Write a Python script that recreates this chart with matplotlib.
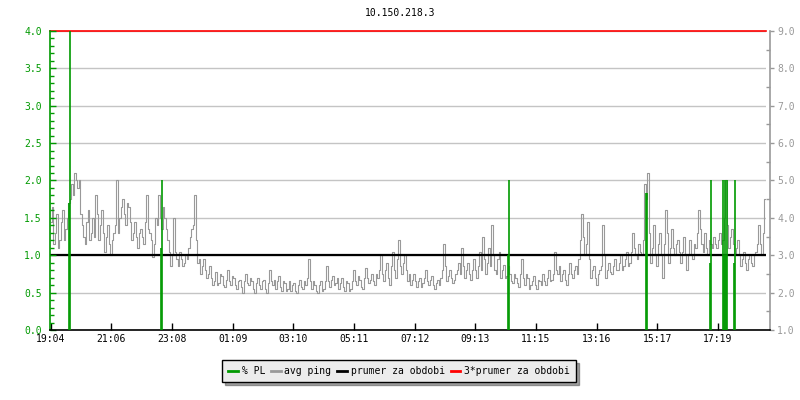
import matplotlib
matplotlib.use("Agg")
import matplotlib.pyplot as plt
import numpy as np
from matplotlib.lines import Line2D
from matplotlib.ticker import MultipleLocator, FormatStrFormatter

# ── data ────────────────────────────────────────────────────────────────────
title = "10.150.218.3"
tick_labels = ["19:04", "21:06", "23:08", "01:09", "03:10", "05:11",
               "07:12", "09:13", "11:15", "13:16", "15:17", "17:19"]
tick_step = 121.36      # minutes between labelled ticks
span = 1431             # minutes shown

# avg ping [ms], samples every 6 minutes from 19:05 ...
ping_start, ping_step = 0.6, 6.0
ping_a = [
    3.9, 3.3, 4.1, 3.4, 4.2, 3.7, 4.4, 4.9, 5.2, 4.8,
    4.1, 3.5, 3.9, 3.4, 4.0, 4.6, 3.4, 4.2, 3.1, 3.8,
    3.0, 3.6, 5.0, 4.0, 4.5, 3.8, 4.3, 3.4, 3.9, 3.2,
    3.7, 3.3, 4.6, 3.6, 2.95, 4.0, 4.6, 3.7, 4.0, 3.4,
    2.7, 4.0, 2.9, 3.1, 2.7, 3.0, 3.2, 3.7, 4.6, 2.8,
    2.5, 2.9, 2.4, 2.7, 2.2, 2.55, 2.25, 2.45, 2.15, 2.6,
    2.2, 2.4, 2.1, 2.35, 2.0, 2.5, 2.2, 2.3, 2.0, 2.4,
    2.1, 2.35, 2.0, 2.6, 2.2, 2.1, 2.45, 2.05, 2.25, 2.1,
    2.05, 2.25, 2.0, 2.35, 2.1, 2.2, 2.9, 2.1, 2.2, 2.0,
    2.3, 2.1, 2.7, 2.15, 2.45, 2.25, 2.1, 2.4, 2.05, 2.25,
    2.1, 2.6, 2.2, 2.35, 2.1, 2.65, 2.25, 2.5, 2.2, 2.4,
    3.0, 2.3, 2.8, 2.2, 3.1, 2.4, 3.4, 2.5, 3.0, 2.3,
    2.2, 2.5, 2.15, 2.4, 2.25, 2.6, 2.2, 2.45, 2.1, 2.35,
    2.4, 3.3, 2.3, 2.6, 2.25, 2.5, 2.8, 3.2, 2.4, 2.8,
    2.35, 2.9, 2.4, 3.1, 3.5, 2.5, 3.2, 3.8, 2.6, 2.9,
    2.4, 2.75, 2.45, 2.5, 2.25, 2.4, 2.15, 2.9, 2.2, 2.4,
    2.2, 2.45, 2.1, 2.3, 2.5, 2.2, 2.6, 2.35, 3.1, 2.5,
    2.3, 2.6, 2.2, 2.8, 2.4, 2.7, 2.9, 4.1, 3.0, 3.9,
    2.4, 2.7, 2.2, 2.6, 3.8, 2.4, 2.8, 2.5, 2.9, 2.6,
    3.0, 2.7, 3.1, 2.8, 3.6, 3.0, 3.3, 3.0, 4.9, 5.2,
    2.8, 3.8, 2.7, 3.6, 2.4, 4.2, 2.8, 3.7, 3.0, 3.4,
    2.8, 3.5, 2.6, 3.4, 2.9, 3.2, 4.2, 3.3, 3.6, 3.0,
    3.3, 3.5, 3.2, 3.6, 3.4, 5.0, 3.2, 3.7, 3.0, 3.4,
    2.7, 3.1, 2.6, 3.0, 2.7, 3.1, 3.8, 3.0, 4.5,
]
# ... and the samples halfway between them
ping_b = [
    4.3, 3.6, 3.2, 3.9, 3.4, 4.0, 4.5, 4.6, 5.0, 5.0,
    3.8, 3.3, 4.2, 3.6, 3.5, 4.1, 3.8, 3.6, 3.5, 3.3,
    3.4, 3.8, 3.6, 4.3, 4.1, 4.4, 3.9, 3.6, 3.5, 3.6,
    3.5, 3.9, 3.7, 3.4, 3.3, 3.8, 4.0, 4.3, 3.7, 3.1,
    3.0, 3.1, 2.7, 2.9, 2.8, 2.9, 3.5, 3.8, 3.4, 2.9,
    2.7, 2.6, 2.5, 2.4, 2.3, 2.2, 2.5, 2.2, 2.35, 2.3,
    2.45, 2.2, 2.3, 2.15, 2.3, 2.25, 2.4, 2.1, 2.25, 2.2,
    2.3, 2.1, 2.25, 2.3, 2.35, 2.3, 2.15, 2.3, 2.05, 2.3,
    2.2, 2.05, 2.2, 2.15, 2.3, 2.4, 2.3, 2.3, 2.05, 2.2,
    2.05, 2.3, 2.3, 2.35, 2.2, 2.4, 2.25, 2.15, 2.3, 2.05,
    2.3, 2.3, 2.45, 2.15, 2.4, 2.4, 2.35, 2.3, 2.5, 2.6,
    2.5, 2.6, 2.4, 2.7, 2.6, 2.9, 2.7, 2.8, 2.6, 2.5,
    2.35, 2.3, 2.3, 2.15, 2.4, 2.3, 2.35, 2.2, 2.25, 2.2,
    2.6, 2.7, 2.45, 2.4, 2.35, 2.6, 2.5, 2.7, 2.6, 2.5,
    2.6, 2.6, 2.7, 2.6, 2.9, 2.8, 2.7, 3.0, 2.5, 3.1,
    2.6, 2.4, 2.7, 2.3, 2.5, 2.25, 2.5, 2.4, 2.5, 2.1,
    2.3, 2.2, 2.35, 2.2, 2.3, 2.4, 2.3, 2.5, 2.6, 2.7,
    2.5, 2.35, 2.5, 2.5, 2.6, 2.5, 3.4, 3.5, 3.3, 2.9,
    2.6, 2.4, 2.5, 2.7, 3.0, 2.6, 2.55, 2.7, 2.6, 2.8,
    2.6, 2.9, 2.7, 3.1, 3.2, 2.9, 3.1, 3.4, 4.5, 3.6,
    3.2, 3.0, 3.3, 3.0, 3.3, 3.6, 3.2, 3.2, 3.3, 3.1,
    3.1, 3.0, 3.0, 3.0, 3.3, 3.6, 3.7, 3.1, 3.2, 3.4,
    3.2, 3.3, 3.4, 3.3, 4.0, 3.8, 3.5, 3.3, 3.2, 3.0,
    2.9, 2.8, 2.9, 2.8, 3.0, 3.3, 3.3, 3.6,
]

# packet loss [%] spikes: minute from start, value
pl_time = [36.6, 38.6, 220.6, 222.6, 914.6, 916.6, 1190.6, 1192.6,
           1318.6, 1320.6, 1344.6, 1346.6, 1348.6, 1350.6, 1352.6, 1366.6, 1368.6]
pl_val = [1.7, 4.0, 1.1, 2.0, 1.0, 2.0, 1.83, 1.83,
          0.9, 2.0, 2.0, 1.0, 2.0, 1.0, 2.0, 0.9, 2.0]

avg_mean = 3.0          # prumer za obdobi [ms]
avg_mean3 = 9.0         # 3*prumer

# ── colours ─────────────────────────────────────────────────────────────────
GREEN = "#009900"
GRAY = "#999999"
GRID = "#c4c4c4"

plt.rcParams["font.family"] = "DejaVu Sans Mono"
plt.rcParams["font.size"] = 7

fig = plt.figure(figsize=(8, 4), dpi=100)
fig.patch.set_facecolor("white")
ax = fig.add_axes([50 / 800, 70 / 400, 716 / 800, 299 / 400])
axr = ax.twinx()
ax.set_zorder(2)
axr.set_zorder(1)
ax.patch.set_visible(False)

# interleave the two sample sets into one series
ping = np.empty(len(ping_a) + len(ping_b))
ping[0::2] = ping_a
ping[1::2] = ping_b
t = ping_start + (ping_step / 2) * np.arange(len(ping))

# right axis: ping
axr.set_ylim(1, 9)
axr.yaxis.set_major_locator(MultipleLocator(1.0))
axr.yaxis.set_minor_locator(MultipleLocator(0.5))
axr.yaxis.set_major_formatter(FormatStrFormatter("%.1f"))
axr.grid(True, which="major", axis="y", color=GRID, lw=1.0, zorder=0)
axr.plot(t, ping, color=GRAY, lw=0.8, zorder=2, drawstyle="steps-mid")
axr.axhline(avg_mean, color="black", lw=1.6, zorder=3)
axr.axhline(avg_mean3, color="red", lw=1.2, zorder=3, clip_on=False)

# left axis: packet loss
ax.set_ylim(0, 4)
ax.set_xlim(-1.4, span)
ax.vlines(pl_time, 0, pl_val, color=GREEN, lw=1.2, zorder=4)
ax.yaxis.set_major_locator(MultipleLocator(0.5))
ax.yaxis.set_minor_locator(MultipleLocator(0.1))
ax.yaxis.set_major_formatter(FormatStrFormatter("%.1f"))
ax.set_xticks([i * tick_step for i in range(len(tick_labels))])
ax.set_xticklabels(tick_labels)

# spines / ticks
for s in ["top", "right"]:
    ax.spines[s].set_visible(False)
for s in ["top", "left", "bottom"]:
    axr.spines[s].set_visible(False)
ax.spines["left"].set_color(GREEN)
ax.spines["left"].set_linewidth(1.2)
ax.spines["bottom"].set_color("black")
ax.spines["bottom"].set_linewidth(1.2)
ax.spines["bottom"].set_bounds(-1.4, span + 8)
axr.spines["right"].set_color(GRAY)
axr.spines["right"].set_linewidth(1.2)
axr.spines["right"].set_position(("outward", 3))

ax.tick_params(axis="y", which="major", direction="in", length=4, width=1,
               color=GREEN, labelcolor=GREEN, pad=6)
ax.tick_params(axis="y", which="minor", direction="in", length=3, width=1,
               color=GREEN)
ax.tick_params(axis="x", which="major", direction="in", length=5, width=1,
               color="black", labelcolor="black", pad=3)
axr.tick_params(axis="y", which="major", direction="out", length=3, width=1,
                color=GRAY, labelcolor=GRAY, pad=2)
axr.tick_params(axis="y", which="minor", direction="in", length=3, width=1,
                color=GRAY)

fig.text(0.5, 1 - 13 / 400, title, ha="center", va="center", fontsize=7)

handles = [
    Line2D([], [], color=GREEN, lw=2),
    Line2D([], [], color=GRAY, lw=2),
    Line2D([], [], color="black", lw=2),
    Line2D([], [], color="red", lw=2),
]
labels = ["% PL", "avg ping", "prumer za obdobi", "3*prumer za obdobi"]
leg = fig.legend(handles, labels, loc="center", bbox_to_anchor=(399 / 800, 1 - 371 / 400),
                 ncol=4, frameon=True, fancybox=False, shadow=True,
                 handlelength=1.0, handletextpad=0.4, columnspacing=0.6,
                 borderpad=0.6, fontsize=7)
leg.get_frame().set_edgecolor("black")
leg.get_frame().set_facecolor("#ececec")
leg.get_frame().set_alpha(1)
leg.get_frame().set_linewidth(1.0)

fig.savefig("out.png", dpi=100, facecolor="white")
print("saved")
